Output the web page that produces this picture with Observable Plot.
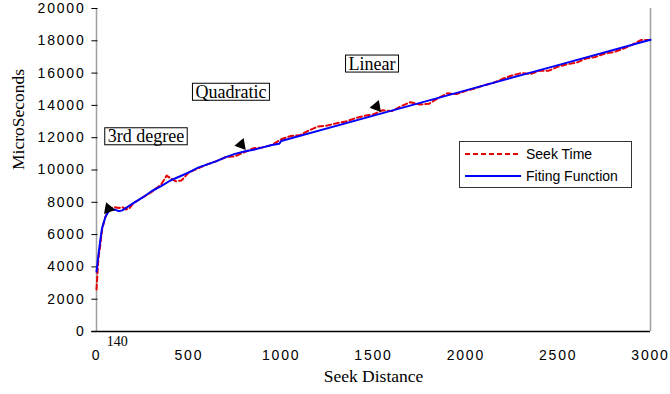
<!DOCTYPE html>
<html>
<head>
<meta charset="utf-8">
<script src="https://cdn.jsdelivr.net/npm/d3@7"></script>
<script src="https://cdn.jsdelivr.net/npm/@observablehq/plot@0.6"></script>
<style>
  html, body { margin: 0; padding: 0; background: white; }
  #chart { position: relative; width: 670px; height: 394px; }
  g[aria-label="y-axis tick label"] text, g[aria-label="x-axis tick label"] text { letter-spacing: 1.8px; }
</style>
</head>
<body>
<div id="chart"></div>
<script>
const seekDistance = [0, 10, 20, 30, 45, 60, 80, 100, 120, 140, 160, 180, 200, 250, 300, 350, 380, 400, 430, 460, 500, 550, 600, 650, 700, 750, 800, 850, 900, 950, 1000, 1050, 1100, 1150, 1200, 1250, 1300, 1350, 1400, 1450, 1500, 1550, 1600, 1650, 1700, 1750, 1800, 1850, 1900, 1950, 2000, 2050, 2100, 2150, 2200, 2250, 2300, 2350, 2400, 2450, 2500, 2550, 2600, 2650, 2700, 2750, 2800, 2850, 2900, 2950, 3000];
const seekTime = [2600, 4500, 5300, 6300, 7000, 7400, 7650, 7700, 7650, 7700, 7550, 7650, 7950, 8300, 8650, 9100, 9650, 9500, 9300, 9350, 9850, 10100, 10350, 10550, 10800, 10850, 11100, 11350, 11400, 11550, 11900, 12100, 12150, 12450, 12700, 12750, 12900, 13000, 13200, 13350, 13450, 13700, 13650, 13950, 14200, 14050, 14100, 14450, 14750, 14700, 14900, 15050, 15250, 15400, 15650, 15850, 16000, 15950, 16150, 16150, 16400, 16550, 16650, 16900, 17000, 17200, 17300, 17500, 17750, 18050, 18050];

// Fitting function
const fitDistance = [0, 10, 20, 30, 50, 70, 100, 120, 140, 160, 200, 250, 300, 350, 400, 450, 500, 550, 600, 650, 700, 750, 800, 850, 900, 950, 990, 1000, 1500, 2000, 2500, 3000];
const fitValue = [3700, 4700, 5600, 6400, 7150, 7500, 7550, 7450, 7500, 7650, 7950, 8300, 8700, 9000, 9350, 9600, 9850, 10150, 10350, 10550, 10800, 11000, 11150, 11250, 11400, 11550, 11620, 11800, 13365, 14930, 16495, 18060];

const xTicks = [0, 500, 1000, 1500, 2000, 2500, 3000];
const yTicks = [0, 2000, 4000, 6000, 8000, 10000, 12000, 14000, 16000, 18000, 20000];

// Annotations
const annotLabels = ["3rd degree", "Quadratic", "Linear"];
const annotX = [268, 728, 1492];
const annotY = [12074, 14830, 16576];
const arrowX = [65, 784, 1516];
const arrowY = [7600, 11570, 13930];
const arrowAngle = [100, 140, 140];
const specialTick = ["140"];
const seriesNames = ["Seek Time", "Fiting Function"];

const seek = seekDistance.map((d, i) => ({d, v: seekTime[i]}));
const fit = fitDistance.map((d, i) => ({d, v: fitValue[i]}));
const annots = annotLabels.map((t, i) => ({t, d: annotX[i], v: annotY[i]}));
const arrows = arrowX.map((d, i) => ({d, v: arrowY[i], a: arrowAngle[i]}));

const chart = Plot.plot({
  width: 670,
  height: 394,
  marginLeft: 96,
  marginRight: 20,
  marginTop: 8,
  marginBottom: 63,
  x: {domain: [0, 3000]},
  y: {domain: [0, 20000]},
  style: {background: "white", fontFamily: "'Liberation Sans', Arial, sans-serif", fontSize: "14px", color: "black", overflow: "visible"},
  marks: [
    Plot.ruleX([0], {stroke: "#a0a0a0", strokeWidth: 1.5}),
    Plot.ruleX([3000], {stroke: "#a0a0a0", strokeWidth: 1.5}),
    Plot.ruleY(yTicks, {x1: -25, x2: 8, stroke: "black", strokeWidth: 1}),
    Plot.ruleY([0], {x1: -25, x2: 3000, stroke: "black", strokeWidth: 1.5}),
    Plot.axisY({ticks: yTicks, tickSize: 0, tickPadding: 11, label: null, tickFormat: d => String(d)}),
    Plot.axisX({ticks: xTicks, tickSize: 0, tickPadding: 19, label: null, tickFormat: d => String(d)}),
    Plot.text(specialTick, {x: 140, frameAnchor: "bottom", dx: -5, dy: 14, text: d => d, fontFamily: "'Liberation Serif', 'Times New Roman', serif", fontSize: 14}),
    Plot.line(seek, {x: "d", y: "v", stroke: "#e60000", strokeWidth: 2, strokeDasharray: "5,3"}),
    Plot.line(fit, {x: "d", y: "v", stroke: "#0000ff", strokeWidth: 2}),
    Plot.dot(arrows, {x: "d", y: "v", symbol: "triangle", r: 4.5, fill: "black", stroke: "none", rotate: "a"}),
    Plot.text(annots, {x: "d", y: "v", text: "t", className: "annot", fontFamily: "'Liberation Serif', 'Times New Roman', serif", fontSize: 18, fill: "black"}),
    Plot.text(["MicroSeconds"], {frameAnchor: "left", dx: -78, rotate: -90, text: d => d, fontFamily: "'Liberation Serif', 'Times New Roman', serif", fontSize: 17.5}),
    Plot.text(["Seek Distance"], {frameAnchor: "bottom", dy: 50, text: d => d, fontFamily: "'Liberation Serif', 'Times New Roman', serif", fontSize: 17.5})
  ]
});

document.getElementById("chart").appendChild(chart);

// boxes around the annotations
const svg = d3.select(chart);
svg.selectAll(".annot text").each(function() {
  const b = this.getBBox();
  const tr = this.getAttribute("transform");
  const r = d3.select(this.parentNode).insert("rect", () => this)
    .attr("x", b.x - 3).attr("y", b.y + 1.5)
    .attr("width", b.width + 6).attr("height", b.height - 3)
    .attr("fill", "white").attr("stroke", "black").attr("stroke-width", 1);
  if (tr) r.attr("transform", tr);
});

// legend
const lg = svg.append("g").attr("font-family", "'Liberation Sans', Arial, sans-serif").attr("font-size", 14).attr("text-anchor", "start");
lg.append("rect").attr("x", 459.5).attr("y", 141.5).attr("width", 172).attr("height", 46)
  .attr("fill", "white").attr("stroke", "#333").attr("stroke-width", 1);
const styles = [{stroke: "#e60000", dash: "5,3"}, {stroke: "#0000ff", dash: null}];
seriesNames.forEach((name, i) => {
  const y = 154 + i * 22;
  lg.append("line").attr("x1", 465).attr("x2", 521).attr("y1", y).attr("y2", y)
    .attr("stroke", styles[i].stroke).attr("stroke-width", 2)
    .attr("stroke-dasharray", styles[i].dash);
  lg.append("text").attr("x", 526).attr("y", y + 5).attr("fill", "black").text(name);
});
</script>
</body>
</html>
